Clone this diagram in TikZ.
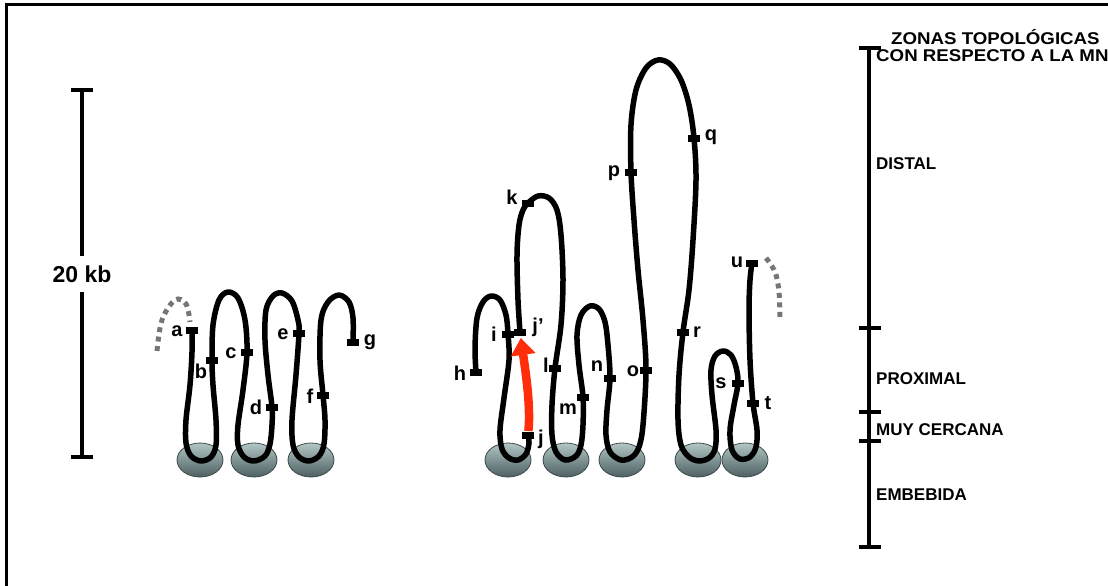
\documentclass[tikz,border=0pt]{standalone}
\usepackage{fontspec}
\setmainfont{Liberation Sans}
\usetikzlibrary{arrows.meta}

\definecolor{nucrim}{RGB}{58,72,73}
\definecolor{nuctop}{RGB}{178,198,198}
\definecolor{nucmid}{RGB}{138,160,161}
\definecolor{nucbot}{RGB}{78,96,97}
\definecolor{loosegray}{RGB}{118,118,118}
\definecolor{movered}{RGB}{255,45,10}

\tikzset{
  fibre/.style={line width=5.5pt, line cap=round, line join=round},
  tag/.style={rectangle, fill=black, minimum width=12pt, minimum height=7pt, inner sep=0pt},
  lbl/.style={font=\fontsize{20}{23}\selectfont\bfseries, inner sep=0pt},
  zone/.style={font=\fontsize{17}{20}\selectfont\bfseries, inner sep=0pt, anchor=west},
  bar/.style={line width=4pt},
  nuc/.style={draw=nucrim, line width=0.8pt, top color=nuctop, middle color=nucmid, bottom color=nucbot},
  loose/.style={line width=5pt, loosegray, dash pattern=on 5pt off 4.5pt},
  movearrow/.style={line width=8.5pt, movered, -{Triangle[length=17pt,width=24pt]}}
}

\begin{document}
\begin{tikzpicture}[x=1pt,y=-1pt]
\useasboundingbox (0,0) rectangle (1108,586);

% frame (left and top edges)
\draw[line width=3pt] (6,586) -- (6,5) -- (1108,5);

% 20 kb scale bar
\coordinate (kbtop) at (82,90);
\coordinate (kbbot) at (82,457);
\node[font=\fontsize{23}{26}\selectfont\bfseries, inner sep=0pt, minimum height=35pt] (kb) at (82,274) {20 kb};
\draw[bar] (kbtop) -- (kb);
\draw[bar] (kb) -- (kbbot);
\draw[bar] (71,90) -- (93,90);
\draw[bar] (71,457) -- (93,457);

% zone scale bar
\coordinate (ztop) at (869,48);
\coordinate (zbot) at (869,547);
\draw[bar] (ztop) -- (zbot);
\foreach \yy in {48,328,412,441,547}
  \draw[bar] (859,\yy) -- (881,\yy);

\node[zone] (zh1) at (891,37) {\scalebox{1.1}[1]{ZONAS TOPOLÓGICAS}};
\node[zone] (zh2) at (876,56) {\scalebox{1.1}[1]{CON RESPECTO A LA MN}};
\node[zone] (zd) at (876,164) {DISTAL};
\node[zone] (zp) at (876,379) {PROXIMAL};
\node[zone] (zm) at (876,430) {MUY CERCANA};
\node[zone] (ze) at (876,495) {EMBEBIDA};

% nucleosomes
\foreach \cx in {200,254,311,508,566,622,698,745}
  \path[nuc] (\cx,460) ellipse [x radius=23, y radius=17];

% marker positions along the fibre
\coordinate (a) at (192,330);
\coordinate (b) at (212,360);
\coordinate (c) at (247,352);
\coordinate (d) at (272,407);
\coordinate (e) at (299,333);
\coordinate (f) at (323,395);
\coordinate (g) at (353,342);
\coordinate (h) at (476,372);
\coordinate (i) at (508,334);
\coordinate (j) at (528,435);
\coordinate (jp) at (520,332);
\coordinate (k) at (528,203);
\coordinate (l) at (555,368);
\coordinate (m) at (583,397);
\coordinate (n) at (610,378);
\coordinate (o) at (646,370);
\coordinate (p) at (631,172);
\coordinate (q) at (694,138);
\coordinate (r) at (683,332);
\coordinate (s) at (738,383);
\coordinate (t) at (753,403);
\coordinate (u) at (752,263);

% loose fibre ends
\draw[loose] plot[smooth, tension=0.6] coordinates {(157,351) (162,320) (175,300) (186,304) (190,322)};
\draw[loose] plot[smooth, tension=0.6] coordinates {(766,258) (775,272) (779,292) (780,320)};

% left fibre
\draw[fibre] plot[smooth, tension=0.55] coordinates {
  (a) (192,352) (190,385) (186,420) (186,443) (191,456) (201,461) (211,457)
  (216,445) (216,420) (213,385) (b) (213,325) (219,300) (228,292) (238,298)
  (245,320) (c) (243,390) (238,425) (238,445) (244,457) (254,461) (265,456)
  (270,444) (272,425) (d) (268,375) (265,340) (266,310) (273,296) (282,293)
  (292,301) (298,320) (e) (296,375) (292,420) (293,445) (299,457) (309,461)
  (319,456) (324,444) (325,420) (f) (320,360) (321,320) (328,302) (339,295)
  (349,302) (353,318) (g)};

% right fibre, first part
\draw[fibre] plot[smooth, tension=0.55] coordinates {
  (h) (475,348) (477,318) (483,302) (491,296) (500,300) (506,315) (i)
  (509,360) (504,398) (500,430) (502,449) (509,458) (518,460) (526,454)
  (529,443) (j)};

% right fibre, second part
\draw[fibre] plot[smooth, tension=0.55] coordinates {
  (jp) (518,300) (517,255) (519,225) (523,210) (k) (538,196) (549,198)
  (557,210) (561,235) (563,280) (561,325) (l) (552,405) (552,435) (556,452)
  (565,460) (576,456) (581,445) (583,425) (m) (579,365) (577,335) (581,315)
  (590,306) (599,309) (605,322) (608,345) (n) (607,410) (606,435) (610,452)
  (621,460) (632,457) (639,447) (643,425) (o) (643,320) (638,270) (634,220)
  (p) (631,125) (636,90) (646,68) (658,60) (670,64) (681,80) (689,105) (q)
  (696,180) (693,240) (689,290) (r) (679,375) (678,420) (681,445) (689,457)
  (699,461) (709,458) (715,449) (716,430) (712,395) (711,370) (715,356)
  (723,351) (731,355) (736,367) (s) (734,405) (730,430) (732,450) (740,459)
  (750,457) (756,447) (757,430) (t) (750,360) (749,310) (750,280) (u)};

% translocation arrow j -> j'
\draw[movearrow, shorten <=4pt, shorten >=6pt] (j) .. controls (531,405) and (525,368) .. (jp);

% markers
\foreach \mk in {a,b,c,d,e,f,g,h,i,j,jp,k,l,m,n,o,p,q,r,s,t,u}
  \node[tag] (t\mk) at (\mk) {};

% marker labels
\node[lbl] (la) at (177,331) {a};
\node[lbl] (lb) at (201,371) {b};
\node[lbl] (lc) at (231,353) {c};
\node[lbl] (ld) at (256,407) {d};
\node[lbl] (le) at (283,334) {e};
\node[lbl] (lf) at (310,396) {f};
\node[lbl] (lg) at (370,342) {g};
\node[lbl] (lh) at (460,373) {h};
\node[lbl] (li) at (494,334) {i};
\node[lbl] (lj) at (541,439) {j};
\node[lbl] (ljp) at (538,327) {j’};
\node[lbl] (lk) at (512,197) {k};
\node[lbl] (ll) at (546,365) {l};
\node[lbl] (lm) at (568,409) {m};
\node[lbl] (ln) at (597,366) {n};
\node[lbl] (lo) at (633,371) {o};
\node[lbl] (lp) at (614,173) {p};
\node[lbl] (lq) at (711,137) {q};
\node[lbl] (lr) at (697,332) {r};
\node[lbl] (ls) at (721,383) {s};
\node[lbl] (lt) at (768,403) {t};
\node[lbl] (lu) at (737,262) {u};
\end{tikzpicture}
\end{document}
